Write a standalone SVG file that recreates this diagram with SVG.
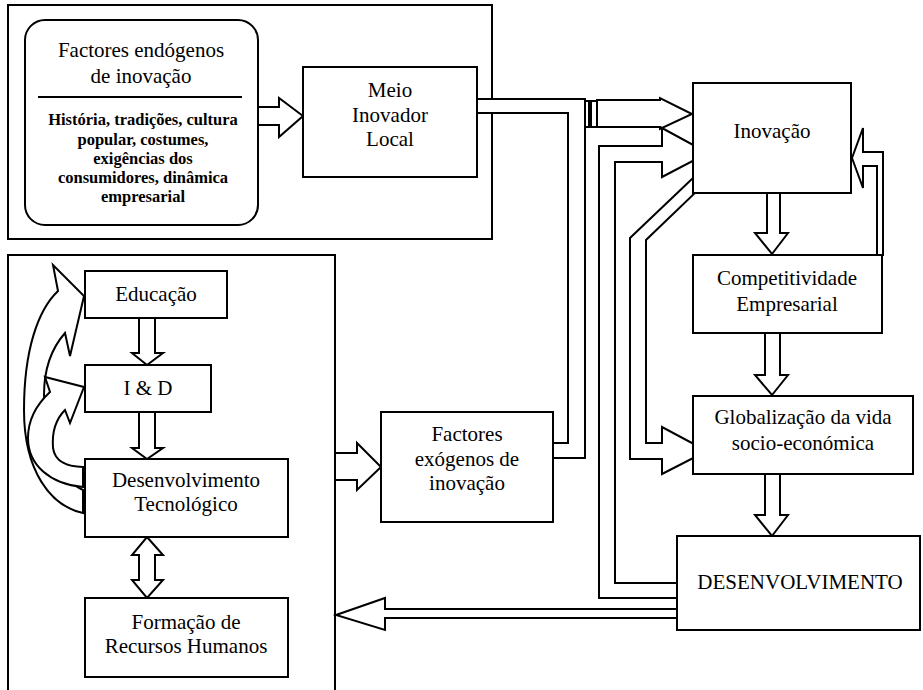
<svg xmlns="http://www.w3.org/2000/svg" width="923" height="690" viewBox="0 0 923 690">
<defs>
<style>
.bx{fill:#fff;stroke:#000;stroke-width:2}
.fr{fill:none;stroke:#000;stroke-width:2}
.ar{fill:#fff;stroke:#000;stroke-width:2;stroke-linejoin:miter}
.ln{fill:none;stroke:#000;stroke-width:2}
text{font-family:"Liberation Serif","Times New Roman",serif;font-size:21px;fill:#000;text-anchor:middle}
.sm{font-size:16.5px;font-weight:bold}
</style>
</defs>
<rect width="923" height="690" fill="#fff"/>
<g id="frames">
<rect class="fr" x="8" y="5" width="484" height="234"/>
<path class="fr" d="M8,692 V255 H335 V692"/>
</g>
<g id="connectors">
<polygon class="ar" points="258,107 279,107 279,98 303,116 279,137 279,125 258,125"/>
<polygon class="ar" points="477,99 585,99 585,458 553,458 553,443 568,443 568,113 477,113"/>
<rect class="ar" x="585" y="101" width="4" height="26"/>
<rect class="ar" x="591" y="101" width="6" height="26"/>
<polygon class="ar" points="597,100 660,100 660,98 692,114 660,129 660,127 597,127"/>
<polygon class="ar" points="677,598 599,598 599,146 662,146 662,128 708,153 662,177 662,162 615,162 615,583 677,583"/>
<polygon class="ar" points="693,178 630,238 630,459 662,459 662,474 707,451 662,427 662,443 646,443 646,240 695,193"/>
<polygon class="ar" points="767,193 780,193 780,233 788,233 772,254 755,233 767,233"/>
<polygon class="ar" points="765,333 780,333 780,375 788,375 772,395 755,375 765,375"/>
<polygon class="ar" points="765,474 780,474 780,515 788,515 772,536 755,515 765,515"/>
<polygon class="ar" points="877,255 877,166 863,166 863,188 852,158 863,128 863,152 883,152 883,255"/>
<polygon class="ar" points="677,609 385,609 385,598 336,615 385,630 385,618 677,618"/>
<polygon class="ar" points="335,453 357,453 357,443 381,467 357,490 357,480 335,480"/>
<polygon class="ar" points="139,318 155,318 155,353 163,353 147,365 132,353 139,353"/>
<polygon class="ar" points="139,412 155,412 155,448 163,448 147,459 132,448 139,448"/>
<polygon class="ar" points="147,537 163,555 155,555 155,580 163,580 147,598 132,580 139,580 139,555 132,555"/>
<path class="ar" d="M83,513 C50,506 24,470 24,410 C24,350 38,310 58,291 L53,265 L84,296 L70,356 L65,333 C50,350 44,372 44,395 C44,440 60,480 83,490 Z"/>
<path class="ar" d="M83,487 C50,484 28,465 28,438 C28,420 36,405 50,392 L45,377 L84,387 L70,423 L65,410 C55,420 52,435 53,448 C55,462 68,467 83,467 Z"/>
</g>
<g id="endogenos">
<rect class="bx" x="25" y="20" width="233" height="205" rx="20"/>
<line class="ln" x1="38" y1="97" x2="242" y2="97"/>
<text x="141" y="57">Factores endógenos</text>
<text x="141" y="83">de inovação</text>
<text class="sm" x="143" y="125">História, tradições, cultura</text>
<text class="sm" x="143" y="145">popular, costumes,</text>
<text class="sm" x="143" y="164">exigências dos</text>
<text class="sm" x="143" y="183">consumidores, dinâmica</text>
<text class="sm" x="143" y="202">empresarial</text>
</g>
<g id="meio">
<rect class="bx" x="303" y="67" width="174" height="110"/>
<text x="390" y="97">Meio</text>
<text x="390" y="122">Inovador</text>
<text x="390" y="146">Local</text>
</g>
<g id="inovacao">
<rect class="bx" x="693" y="83" width="158" height="110"/>
<text x="772" y="138">Inovação</text>
</g>
<g id="competitividade">
<rect class="bx" x="693" y="255" width="189" height="78"/>
<text x="787" y="285">Competitividade</text>
<text x="787" y="311">Empresarial</text>
</g>
<g id="globalizacao">
<rect class="bx" x="693" y="396" width="220" height="78"/>
<text x="803" y="424">Globalização da vida</text>
<text x="803" y="450">socio-económica</text>
</g>
<g id="desenvolvimento">
<rect class="bx" x="677" y="536" width="243" height="94"/>
<text x="800" y="589">DESENVOLVIMENTO</text>
</g>
<g id="exogenos">
<rect class="bx" x="381" y="412" width="172" height="110"/>
<text x="467" y="441">Factores</text>
<text x="467" y="466">exógenos de</text>
<text x="467" y="490">inovação</text>
</g>
<g id="educacao">
<rect class="bx" x="85" y="271" width="142" height="47"/>
<text x="156" y="301">Educação</text>
</g>
<g id="id">
<rect class="bx" x="85" y="365" width="126" height="47"/>
<text x="148" y="395">I &amp; D</text>
</g>
<g id="desenv-tec">
<rect class="bx" x="85" y="459" width="203" height="78"/>
<text x="186" y="487">Desenvolvimento</text>
<text x="186" y="511">Tecnológico</text>
</g>
<g id="formacao">
<rect class="bx" x="85" y="598" width="203" height="79"/>
<text x="186" y="629">Formação de</text>
<text x="186" y="653">Recursos Humanos</text>
</g>
</svg>
